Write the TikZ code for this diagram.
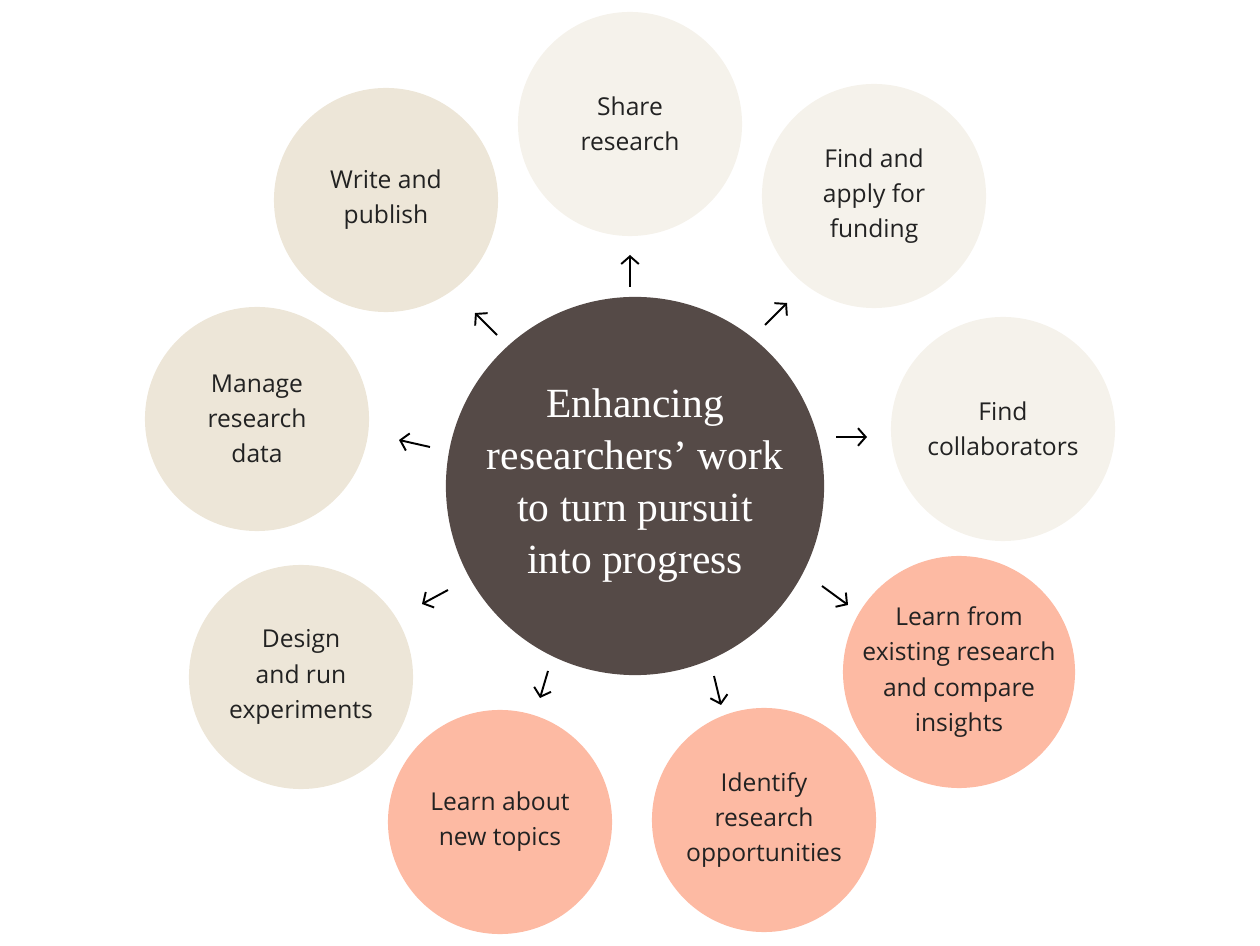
\documentclass[tikz,border=0pt]{standalone}
\usepackage{fontspec}
\setmainfont{Open Sans}
\newfontfamily\serifc{Liberation Serif}
\usetikzlibrary{arrows.meta}
\definecolor{bdark}{HTML}{EDE6D8}
\definecolor{blight}{HTML}{F5F2EB}
\definecolor{salm}{HTML}{FDBAA3}
\definecolor{brown}{HTML}{554A47}
\definecolor{txt}{HTML}{222222}
\begin{document}
\begin{tikzpicture}[x=0.01cm,y=-0.01cm,
  outer/.style={circle,minimum size=2.24cm,inner sep=0pt,align=center,text=txt,font=\fontsize{7}{10}\selectfont},
  arr/.style={-{Straight Barb[length=2.2pt,width=5pt]},line width=0.55pt,black}]
\useasboundingbox (0,0) rectangle (1260,946);
\node[circle,fill=brown,minimum size=3.78cm,inner sep=0pt,align=center,text=white,font=\serifc\fontsize{11.8}{14.8}\selectfont] (c) at (635,486) {Enhancing\\researchers’ work\\to turn pursuit\\into progress};
\node[outer,fill=blight] (share) at (630,124) {Share\\research};
\node[outer,fill=blight] (fund) at (874,196) {Find and\\apply for\\funding};
\node[outer,fill=blight] (coll) at (1003,429) {Find\\collaborators};
\node[outer,fill=salm] (lfrom) at (959,672) {Learn from\\existing research\\and compare\\insights};
\node[outer,fill=salm] (ident) at (764,820) {Identify\\research\\opportunities};
\node[outer,fill=salm] (labout) at (500,822) {Learn about\\new topics};
\node[outer,fill=bdark] (design) at (301,677) {Design\\and run\\experiments};
\node[outer,fill=bdark] (manage) at (257,419) {Manage\\research\\data};
\node[outer,fill=bdark] (write) at (386,200) {Write and\\publish};
\foreach \n/\ax/\ay/\bx/\by in {share/630/287/630/255, fund/765/325/787/303, coll/836/437/867/437,
  lfrom/822/586/848/605, ident/714/676/721/705, labout/548/671/540/698,
  design/448/590/422/604, manage/430/447/399/440, write/497/335/475/313}{
  \coordinate (\n s) at (\ax,\ay); \coordinate (\n e) at (\bx,\by);
  \draw[arr] (\n s) -- (\n e);}
\end{tikzpicture}
\end{document}
